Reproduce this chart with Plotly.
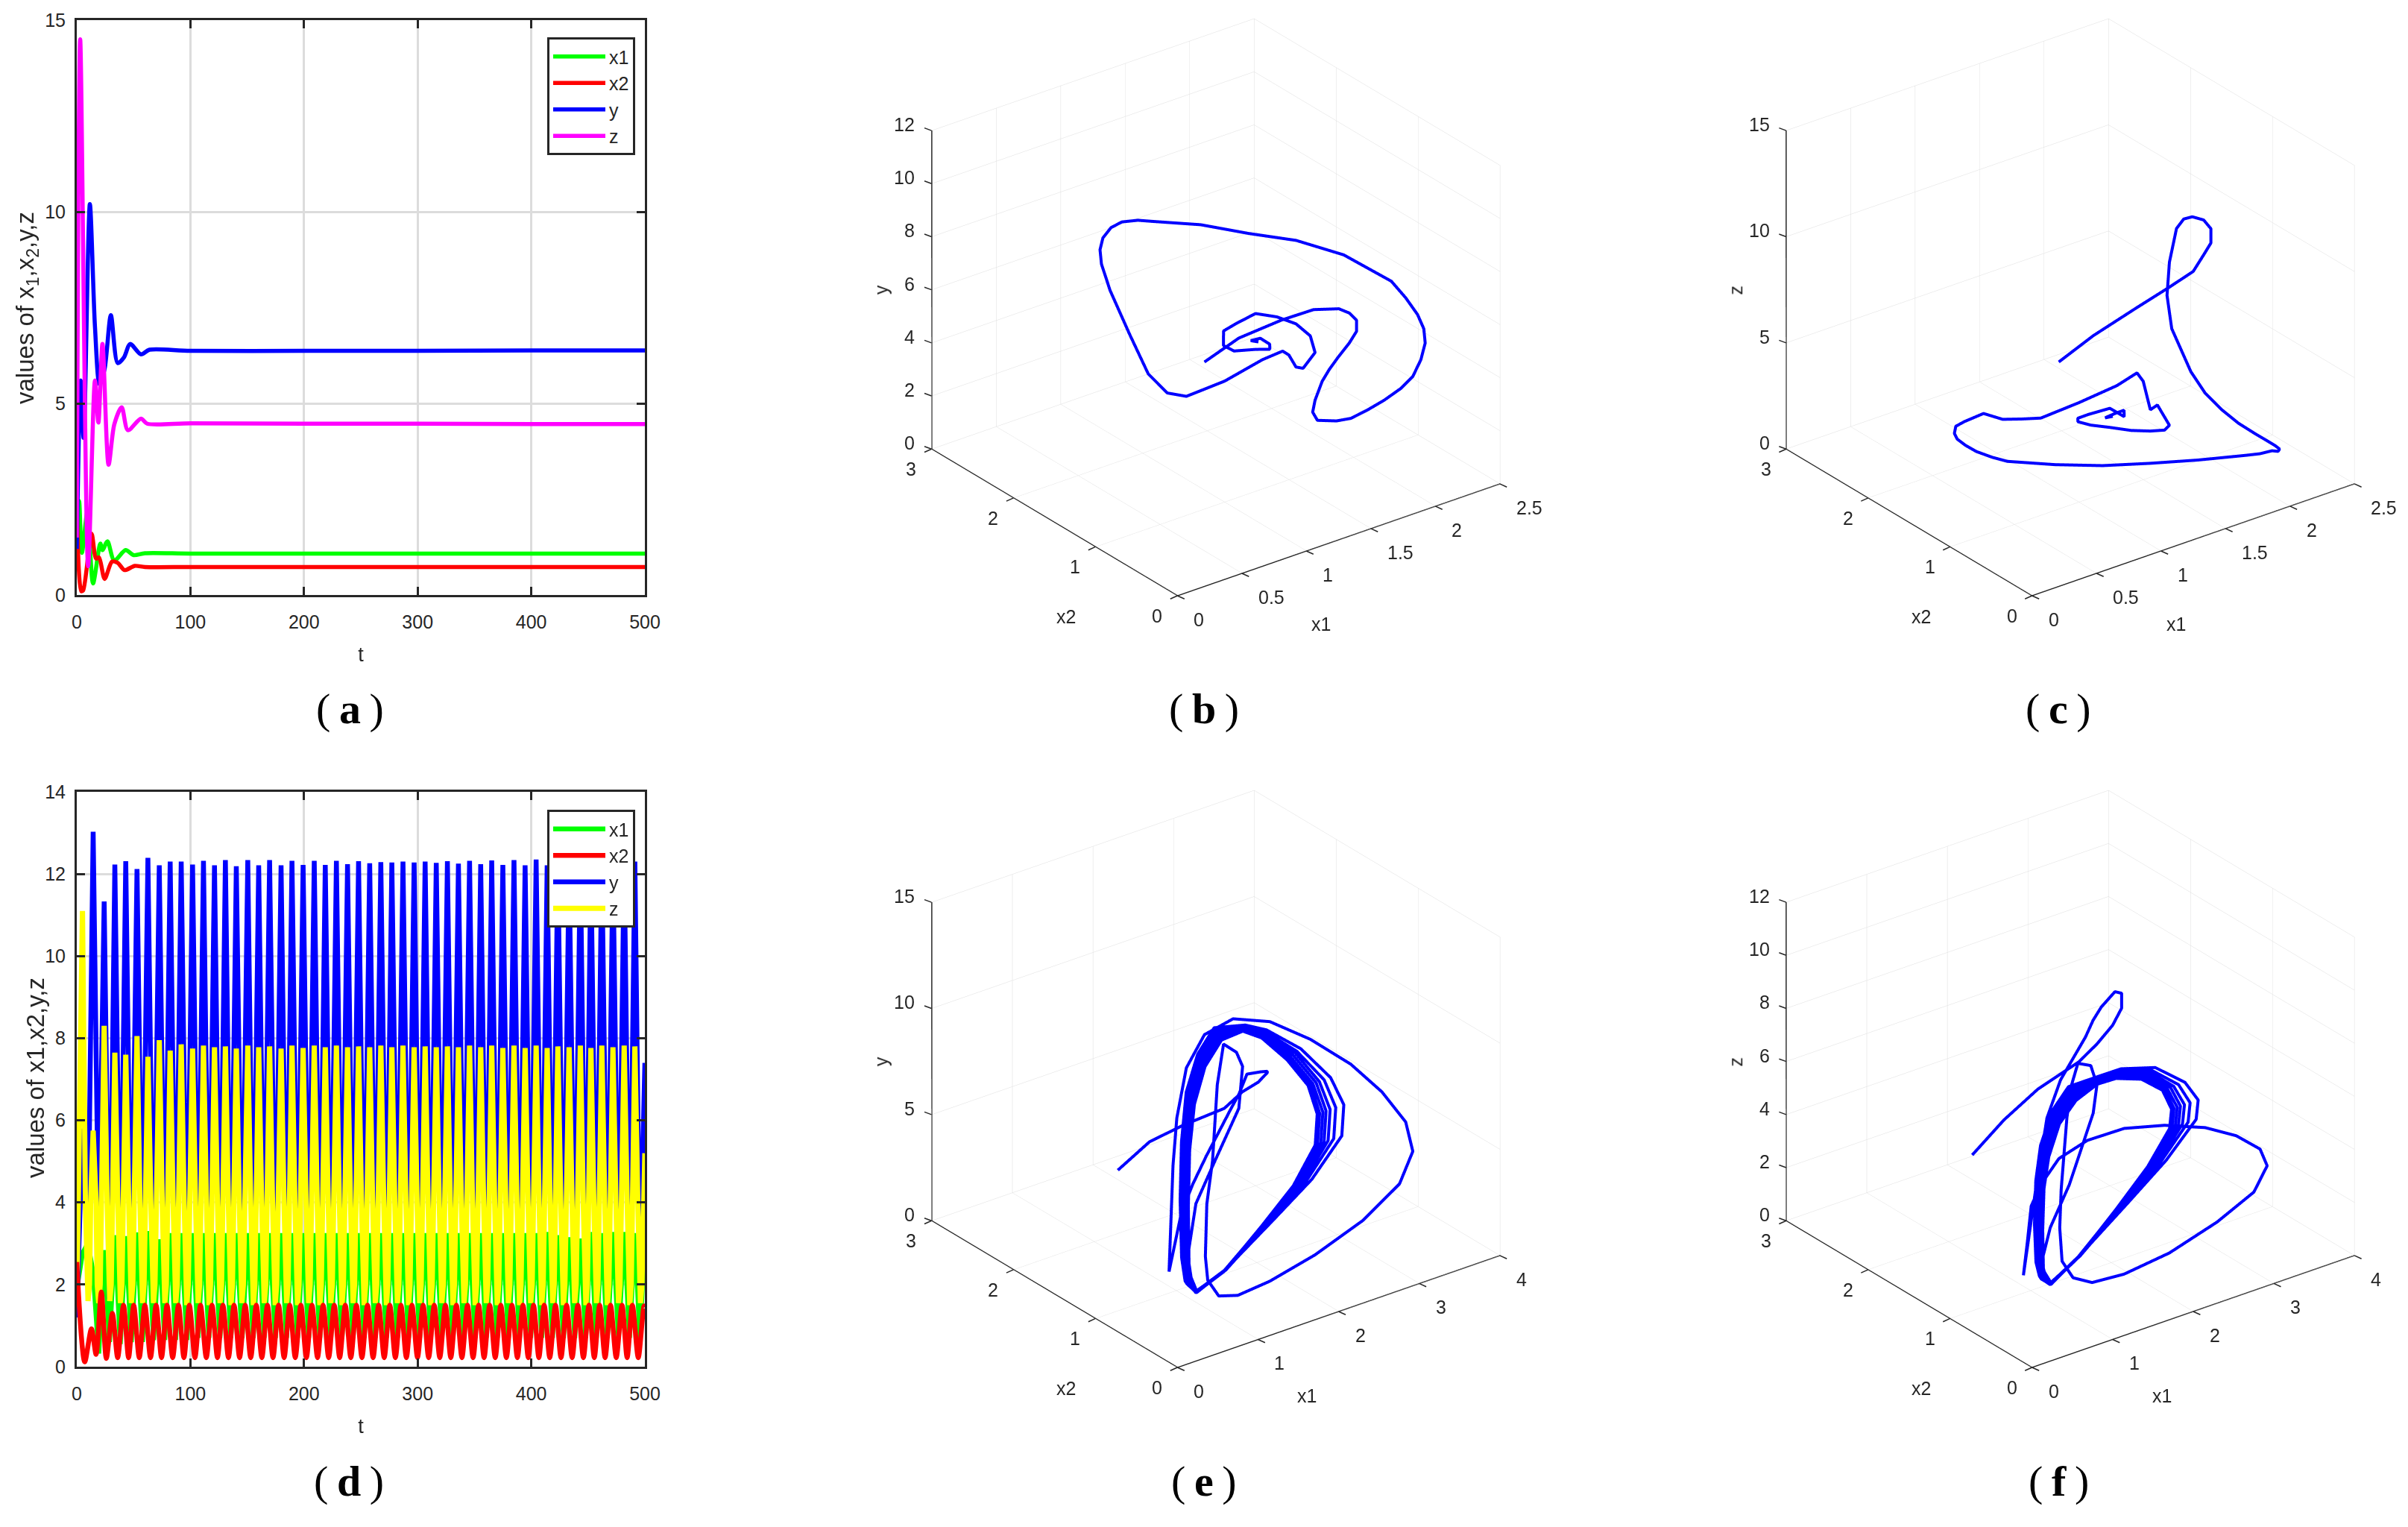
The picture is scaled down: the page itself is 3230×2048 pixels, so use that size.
import plotly.graph_objects as go

W, H = 3230, 2048
FONT = "Liberation Sans, Arial, sans-serif"
TXT = "#262626"
GREEN, RED, BLUE, MAG, YEL = "#00ff00", "#ff0000", "#0000ff", "#ff00ff", "#ffff00"

# ---------- panel (a) ----------
a_t_x1 = [0, 2, 4.5, 9.4, 14.3, 20.7, 22.6, 27, 33, 43, 50, 60, 100, 200, 300, 400, 500]
a_x1 = [1.9, 2.45, 1.1, 2.18, 0.3, 1.34, 1.17, 1.4, 0.9, 1.17, 1.04, 1.09, 1.08, 1.08, 1.08, 1.08, 1.08]
a_t_x2 = [0, 4, 5.6, 13, 17, 19.6, 24.5, 31, 36, 42, 51, 60, 100, 200, 300, 400, 500]
a_x2 = [2.57, 0.1, 0.12, 1.6, 0.95, 0.98, 0.42, 0.87, 0.84, 0.65, 0.76, 0.73, 0.73, 0.73, 0.73, 0.73, 0.73]
a_t_y = [0, 3.5, 6, 11.5, 16, 20, 24.5, 30, 36, 41.5, 47, 56.5, 64, 100, 200, 300, 400, 500]
a_y = [1.2, 5.6, 4.1, 10.2, 7.0, 5.5, 5.9, 7.3, 6.05, 6.2, 6.55, 6.28, 6.4, 6.37, 6.37, 6.37, 6.38, 6.38]
a_t_z = [0, 3, 10, 16, 19, 22.6, 28, 33, 39.5, 45, 56.5, 62, 100, 200, 300, 400, 500]
a_z = [1.5, 14.5, 0.75, 5.6, 4.5, 6.55, 3.4, 4.45, 4.9, 4.3, 4.6, 4.47, 4.48, 4.47, 4.47, 4.46, 4.46]

# ---------- panel (d) ----------
d_peak_t = [5, 14.4, 24.1, 33.5, 43.1, 53, 62.6, 72.6, 82.2, 91.9, 101.9, 111.5, 121.2, 130.8, 140.4, 150.5, 160.1,
            169.7, 179.8, 189.4, 199.2, 209, 218.7, 228.5, 238.3, 248, 257.8, 267.6, 277.3, 287.1, 296.9, 306.6,
            316.4, 326.2, 335.9, 345.7, 355.5, 365.2, 375, 384.8, 394.6, 404.3, 414, 423.4, 433.3, 443.2, 452.5,
            462.1, 471.9, 481.8, 491.2]
d_trough_t = [9.7, 19.3, 28.8, 38.3, 48, 57.8, 67.6, 77.4, 87, 96.9, 106.7, 116.3, 126, 135.6, 145.5, 155.3, 164.9,
              174.8, 184.6, 194.3, 204.1, 213.9, 223.6, 233.4, 243.2, 252.9, 262.7, 272.5, 282.2, 292, 301.8, 311.5,
              321.3, 331.1, 340.8, 350.6, 360.4, 370.1, 379.9, 389.7, 399.5, 409.2, 418.7, 428.4, 438.3, 447.9, 457.3,
              467, 476.8, 486.5, 495.6]
d_y_peak = [5.8, 13.03, 11.33, 12.23, 12.31, 12.12, 12.39, 12.21, 12.3, 12.3, 12.23, 12.32, 12.21, 12.34, 12.19, 12.34,
            12.21, 12.34, 12.21, 12.32, 12.22, 12.32, 12.22, 12.32, 12.24, 12.31, 12.26, 12.29, 12.28, 12.3, 12.28,
            12.3, 12.27, 12.31, 12.25, 12.32, 12.24, 12.33, 12.22, 12.34, 12.21, 12.35, 12.21, 12.34, 12.22, 12.33,
            12.23, 12.33, 12.22, 12.33, 12.3]
d_y_trough = [2.6, 3.0, 1.65, 2.2, 2.0, 2.4, 1.9, 2.3, 2.1, 2.1, 2.2, 2.1, 2.2, 2.1, 2.2, 2.1, 2.2, 2.1, 2.2, 2.1, 2.2,
              2.1, 2.2, 2.1, 2.2, 2.1, 2.2, 2.1, 2.2, 2.1, 2.2, 2.1, 2.2, 2.1, 2.2, 2.1, 2.2, 2.1, 2.2, 2.1, 2.2, 2.1,
              2.2, 2.1, 2.2, 2.1, 2.2, 2.1, 2.2, 2.1, 2.2]
d_z_peak = [11.1, 5.75, 8.3, 7.65, 7.6, 8.05, 7.55, 7.95, 7.7, 7.85, 7.75, 7.82, 7.78, 7.8, 7.75, 7.82, 7.78, 7.8, 7.75,
            7.82, 7.76, 7.82, 7.78, 7.82, 7.78, 7.8, 7.78, 7.82, 7.78, 7.82, 7.78, 7.8, 7.78, 7.8, 7.78, 7.82, 7.78, 7.82,
            7.76, 7.82, 7.76, 7.82, 7.76, 7.8, 7.78, 7.82, 7.76, 7.82, 7.78, 7.82, 7.8]
d_z_trough = [1.6, 1.55, 1.6, 1.55, 1.55, 1.55, 1.55, 1.55, 1.55, 1.5, 1.55, 1.5, 1.55, 1.5, 1.55, 1.5, 1.55, 1.5, 1.55,
              1.5, 1.55, 1.5, 1.55, 1.5, 1.55, 1.5, 1.55, 1.5, 1.55, 1.5, 1.55, 1.5, 1.55, 1.5, 1.55, 1.5, 1.55, 1.5, 1.55,
              1.5, 1.55, 1.5, 1.55, 1.5, 1.55, 1.5, 1.55, 1.5, 1.55, 1.5, 1.55]
# shape of the lower flanks of z: levels and their time from the peak
d_z_flank_levels = [4.0, 2.0, 2.0, 4.0]
d_z_flank_dt = [2.6, 3.6, 6.2, 7.2]
d_x1_peak = [2.76, 2.3, 2.84, 3.2, 3.18, 3.27, 3.3, 3.1, 3.25, 3.25, 3.25, 3.25, 3.25, 3.25, 3.25, 3.25, 3.25, 3.25, 3.25,
             3.25, 3.25, 3.25, 3.25, 3.25, 3.25, 3.25, 3.25, 3.25, 3.25, 3.25, 3.25, 3.25, 3.25, 3.25, 3.25, 3.25, 3.25,
             3.25, 3.25, 3.25, 3.25, 3.25, 3.28, 3.2, 3.15, 3.12, 3.28, 3.25, 3.28, 3.28, 3.25]
d_x1_trough = [3.0, 0.32, 0.6, 0.55, 0.6, 0.6, 0.65, 0.65, 0.65, 0.65, 0.7, 0.7, 0.7, 0.7, 0.7, 0.7, 0.7, 0.7, 0.7, 0.7,
               0.7, 0.7, 0.7, 0.7, 0.7, 0.7, 0.7, 0.7, 0.7, 0.7, 0.7, 0.7, 0.7, 0.7, 0.7, 0.7, 0.7, 0.7, 0.7, 0.7, 0.7,
               0.7, 0.7, 0.7, 0.7, 0.7, 0.7, 0.7, 0.7, 0.7, 0.7]
d_t_start, d_t_end = 0, 500
d_y_start, d_y_end = 1.2, 7.4
d_z_start, d_z_end = 1.5, 5.2
d_x1_start, d_x1_end = 1.9, 3.2
d_t_x2 = [0, 7, 12.9, 17, 21.6, 26, 31.3, 36, 41.1, 45.6, 50.1, 55, 59.9, 64.9, 69.8, 74.6, 79.4, 84.4, 89.5, 94.3, 99.1,
          104, 108.9, 114, 119, 123.8, 128.6, 133.5, 138.4, 143.3, 148.2, 153.1, 158, 162.9, 167.8, 172.7, 177.6, 182.5,
          187.4, 192.3, 197.2, 202.1, 207, 211.9, 216.8, 221.7, 226.6, 231.4, 236.3, 241.2, 246.1, 251, 255.9, 260.8,
          265.7, 270.6, 275.5, 280.4, 285.3, 290.1, 295, 299.9, 304.8, 309.7, 314.6, 319.5, 324.4, 329.2, 334.1, 339,
          343.9, 348.8, 353.7, 358.5, 363.4, 368.3, 373.2, 378.1, 383, 387.8, 392.7, 397.4, 402, 406.7, 411.4, 416.3,
          421.3, 426.2, 431.1, 436, 441, 445.9, 450.8, 455.5, 460.2, 465, 469.8, 474.8, 479.9, 484.4, 489, 494.2, 499.3, 500]
d_x2 = [2.55, 0.12, 0.92, 0.3, 1.82, 0.2, 1.3, 0.22, 1.5, 0.22, 1.5, 0.22, 1.5, 0.22, 1.5, 0.22, 1.5, 0.22, 1.5, 0.22, 1.5,
        0.22, 1.5, 0.22, 1.5, 0.22, 1.5, 0.22, 1.5, 0.22, 1.5, 0.22, 1.5, 0.22, 1.5, 0.22, 1.5, 0.22, 1.5, 0.22, 1.5, 0.22,
        1.5, 0.22, 1.5, 0.22, 1.5, 0.22, 1.5, 0.22, 1.5, 0.22, 1.5, 0.22, 1.5, 0.22, 1.5, 0.22, 1.5, 0.22, 1.5, 0.22, 1.5,
        0.22, 1.5, 0.22, 1.5, 0.22, 1.5, 0.22, 1.5, 0.22, 1.5, 0.22, 1.5, 0.22, 1.5, 0.22, 1.5, 0.22, 1.5, 0.22, 1.5, 0.22,
        1.5, 0.22, 1.5, 0.22, 1.5, 0.22, 1.5, 0.22, 1.5, 0.22, 1.5, 0.22, 1.5, 0.22, 1.5, 0.22, 1.5, 0.22, 1.48, 1.45]

# ---------- panels (b), (c) ----------
bc_x1 = [1.79, 1.746, 1.633, 1.626, 1.663, 1.649, 1.641, 1.578, 1.49, 1.37, 1.278, 1.203, 1.129, 1.104, 1.147, 1.308, 1.425,
         1.567, 1.709, 1.858, 1.995, 2.153, 2.269, 2.332, 2.35, 2.264, 2.175, 1.903, 1.642, 1.389, 1.164, 0.957, 0.916,
         0.877, 0.866, 0.868, 0.857, 0.853, 0.838, 0.841, 0.782, 0.843, 0.909, 1.135, 1.27, 1.212, 1.278, 1.358, 1.43,
         1.481, 1.418, 1.305, 1.164, 1.032, 0.922, 0.852, 0.828, 0.876, 1.032, 1.138, 1.138, 1.099, 1.052, 1.09]
bc_x2 = [2.49, 2.0, 1.3, 0.9, 0.65, 0.5, 0.4, 0.3, 0.25, 0.2, 0.16, 0.13, 0.1, 0.09, 0.1, 0.12, 0.13, 0.15, 0.17, 0.2, 0.27,
         0.42, 0.55, 0.666, 0.77, 0.78, 0.815, 0.968, 1.14, 1.324, 1.55, 1.807, 1.928, 2.06, 2.176, 2.278, 2.296, 2.272,
         2.143, 1.915, 1.589, 1.453, 1.324, 1.215, 0.963, 0.626, 0.654, 0.693, 0.72, 0.654, 0.613, 0.61, 0.621, 0.674,
         0.735, 0.781, 0.744, 0.691, 0.674, 0.666, 0.668, 0.721, 0.764, 0.73]
bc_y = [1.2, 3.08, 5.24, 6.38, 6.81, 6.95, 6.88, 6.75, 6.55, 6.3, 6.08, 5.81, 5.28, 4.89, 4.49, 4.16, 4.04, 4.08, 4.17, 4.31,
        4.4, 4.49, 4.68, 4.9, 5.21, 5.97, 6.68, 7.85, 8.52, 8.87, 9.16, 9.16, 9.05, 8.81, 8.4, 7.82, 7.36, 6.87, 6.14,
        4.94, 4.11, 3.54, 3.54, 3.93, 4.98, 6.02, 5.71, 5.05, 4.83, 5.46, 6.27, 6.92, 7.4, 7.65, 7.35, 7.1, 6.66, 6.47,
        6.3, 6.14, 6.33, 6.52, 6.43, 6.38]
bc_z = [1.5, 3.96, 7.11, 8.99, 10.27, 11.43, 12.23, 13.27, 13.98, 14.5, 14.68, 14.46, 13.1, 11.61, 9.93, 7.52, 6.24, 5.11, 4.13,
        3.25, 2.47, 1.56, 0.86, 0.35, 0.1, 0.12, 0.15, 0.15, 0.15, 0.15, 0.15, 0.15, 0.15, 0.2, 0.25, 0.3, 0.55, 0.95, 1.5,
        2.4, 3.0, 3.2, 3.4, 3.9, 5.0, 6.5, 5.9, 4.3, 4.31, 3.4, 3.4, 3.6, 3.9, 4.2, 4.4, 4.6, 4.9, 5.1, 5.1, 4.5, 4.8, 4.6,
        4.4, 4.47]

# ---------- panels (e), (f) ----------
ef_x1 = ([1.8, 2.02, 2.206, 2.393, 2.314, 2.2, 2.077, 1.889, 1.717, 1.723, 1.765, 1.761, 1.667, 1.686, 1.321, 0.62]
         + [1.264, 1.515, 1.684, 1.909, 2.213, 2.567, 2.968, 3.318, 3.5, 3.592, 3.477, 3.159, 2.55, 1.857, 1.244, 0.827,
            0.611, 0.627, 0.852, 1.226, 1.551, 1.61, 1.535, 1.746, 1.924, 1.979, 1.835, 1.446, 0.768]
         + [0.5, 0.81, 1.38, 2.02, 2.85, 3.18, 3.22, 2.85, 2.17, 1.57, 1.5, 1.58, 1.55, 1.44, 1.21, 0.72, 0.55]
         + [0.49, 0.8, 1.34, 1.95, 2.75, 3.08, 3.14, 2.8, 2.15, 1.56, 1.49, 1.57, 1.55, 1.44, 1.2, 0.71, 0.54]
         + [0.48, 0.79, 1.32, 1.91, 2.68, 3.01, 3.08, 2.78, 2.15, 1.56, 1.49, 1.57, 1.54, 1.43, 1.2, 0.7, 0.53]
         + [0.48, 0.79, 1.3, 1.88, 2.63, 2.96, 3.04, 2.75, 2.14, 1.55, 1.48, 1.56, 1.54, 1.43, 1.2, 0.7, 0.53]
         + [0.48, 0.78, 1.29, 1.85, 2.59, 2.92, 3.0, 2.72, 2.13, 1.55, 1.48, 1.56, 1.54, 1.43, 1.2, 0.7, 0.53]
         + [0.48, 0.78, 1.28, 1.82, 2.55, 2.88, 2.97, 2.7, 2.12, 1.55, 1.48, 1.56, 1.54, 1.43, 1.2, 0.7, 0.53]
         + [0.47, 0.77, 1.27, 1.79, 2.52, 2.85, 2.94, 2.68, 2.11, 1.54, 1.48, 1.56, 1.54, 1.43, 1.2, 0.7, 0.53])
ef_x2 = ([2.5, 2.33, 2.097, 1.784, 1.486, 1.18, 0.949, 0.764, 0.677, 0.849, 0.99, 1.08, 1.291, 1.476, 1.255, 0.715]
         + [1.3, 1.5, 1.55, 1.55, 1.5, 1.4, 1.3, 1.15, 0.95, 0.75, 0.55, 0.4, 0.25, 0.15, 0.1, 0.08,
            0.1, 0.25, 0.5, 0.85, 1.1, 1.1, 0.95, 1.0, 1.1, 1.2, 1.35, 1.2, 0.65]
         + [0.26, 0.21, 0.22, 0.35, 0.8, 1.1, 1.3, 1.3, 1.05, 0.72, 1.03, 1.31, 1.42, 1.37, 1.16, 0.66, 0.45]
         + [0.26, 0.2, 0.22, 0.35, 0.8, 1.1, 1.3, 1.3, 1.05, 0.72, 1.01, 1.29, 1.4, 1.35, 1.14, 0.64, 0.43]
         + [0.25, 0.2, 0.22, 0.35, 0.8, 1.1, 1.3, 1.3, 1.05, 0.72, 0.99, 1.27, 1.38, 1.33, 1.12, 0.62, 0.41]
         + [0.25, 0.2, 0.22, 0.35, 0.8, 1.1, 1.3, 1.3, 1.05, 0.72, 0.97, 1.25, 1.36, 1.31, 1.1, 0.6, 0.39]
         + [0.25, 0.2, 0.22, 0.35, 0.8, 1.1, 1.3, 1.3, 1.05, 0.72, 0.95, 1.23, 1.34, 1.29, 1.08, 0.58, 0.37]
         + [0.24, 0.2, 0.22, 0.35, 0.8, 1.1, 1.3, 1.3, 1.05, 0.72, 0.93, 1.21, 1.32, 1.27, 1.06, 0.56, 0.35]
         + [0.24, 0.19, 0.22, 0.35, 0.8, 1.1, 1.3, 1.3, 1.05, 0.72, 0.92, 1.2, 1.31, 1.26, 1.05, 0.55, 0.34])
ef_y = ([1.16, 2.6, 3.68, 4.94, 6.51, 7.82, 8.96, 9.7, 10.1, 9.59, 8.25, 7.39, 4.78, 2.99, 2.63, 2.05]
        + [4.85, 6.3, 8.32, 9.59, 10.05, 9.68, 8.55, 7.26, 6.18, 5.1, 4.33, 3.56, 2.98, 2.51, 2.19, 2.12,
           2.33, 2.71, 2.96, 4.13, 5.15, 8.66, 11.02, 10.24, 9.11, 6.83, 4.2, 3.04, 2.28]
        + [2.34, 3.07, 4.5, 5.39, 5.31, 5.65, 6.41, 8.26, 10.62, 12.4, 11.65, 9.65, 7.65, 5.55, 3.6, 2.7, 2.3]
        + [2.34, 3.07, 4.5, 5.39, 5.31, 5.65, 6.41, 8.21, 10.57, 12.38, 11.6, 9.6, 7.6, 5.53, 3.6, 2.7, 2.3]
        + [2.34, 3.07, 4.5, 5.39, 5.31, 5.65, 6.41, 8.16, 10.52, 12.34, 11.55, 9.55, 7.55, 5.52, 3.6, 2.7, 2.3]
        + [2.34, 3.07, 4.5, 5.39, 5.31, 5.65, 6.41, 8.11, 10.47, 12.3, 11.5, 9.5, 7.5, 5.5, 3.6, 2.7, 2.3]
        + [2.34, 3.07, 4.5, 5.39, 5.31, 5.65, 6.41, 8.06, 10.42, 12.25, 11.45, 9.45, 7.45, 5.48, 3.6, 2.7, 2.3]
        + [2.34, 3.07, 4.5, 5.39, 5.31, 5.65, 6.41, 8.01, 10.37, 12.2, 11.4, 9.4, 7.4, 5.47, 3.6, 2.7, 2.3]
        + [2.34, 3.07, 4.5, 5.39, 5.31, 5.65, 6.41, 7.96, 10.32, 12.15, 11.35, 9.35, 7.35, 5.45, 3.6, 2.7, 2.3])
ef_z = ([1.5, 2.9, 4.3, 5.7, 7.0, 8.4, 9.6, 10.7, 11.1, 10.2, 9.4, 8.6, 6.7, 4.9, 3.0, 1.5]
        + [1.0, 1.72, 2.25, 3.0, 3.46, 3.72, 3.6, 3.42, 3.29, 3.06, 2.92, 2.54, 2.33, 2.08, 2.02, 2.18,
           2.55, 2.88, 3.45, 3.84, 5.74, 6.93, 8.09, 7.69, 6.6, 5.28, 2.46, 1.53, 1.82]
        + [2.18, 2.99, 4.23, 5.03, 4.87, 4.7, 4.95, 5.9, 7.03, 8.0, 7.1, 5.58, 4.12, 3.0, 1.98, 1.99, 2.02]
        + [2.18, 2.99, 4.23, 5.03, 4.87, 4.7, 4.95, 5.86, 6.98, 7.96, 7.05, 5.54, 4.08, 2.98, 1.98, 1.99, 2.02]
        + [2.18, 2.99, 4.23, 5.03, 4.87, 4.7, 4.95, 5.81, 6.93, 7.91, 7.0, 5.49, 4.05, 2.97, 1.98, 1.99, 2.02]
        + [2.18, 2.99, 4.23, 5.03, 4.87, 4.7, 4.95, 5.77, 6.88, 7.87, 6.95, 5.45, 4.01, 2.96, 1.98, 1.99, 2.02]
        + [2.18, 2.99, 4.23, 5.03, 4.87, 4.7, 4.95, 5.73, 6.83, 7.82, 6.9, 5.41, 3.97, 2.94, 1.98, 1.99, 2.02]
        + [2.18, 2.99, 4.23, 5.03, 4.87, 4.7, 4.95, 5.68, 6.78, 7.77, 6.85, 5.36, 3.94, 2.93, 1.98, 1.99, 2.02]
        + [2.18, 2.99, 4.23, 5.03, 4.87, 4.7, 4.95, 5.64, 6.73, 7.72, 6.8, 5.32, 3.9, 2.92, 1.98, 1.99, 2.02])

# tick labels
ticks_x1_small = [0, 0.5, 1, 1.5, 2, 2.5]
ticks_x1_large = [0, 1, 2, 3, 4]
ticks_x2 = [0, 1, 2, 3]
ticks_12 = [0, 2, 4, 6, 8, 10, 12]
ticks_14 = [0, 2, 4, 6, 8, 10, 12, 14]
ticks_15 = [0, 5, 10, 15]
ticks_t = [0, 100, 200, 300, 400, 500]

fig = go.Figure()

def interleave(start, peaks, troughs, end):
    out = [start]
    for p, q in zip(peaks, troughs):
        out += [p, q]
    return out + [end]

d_t = interleave(d_t_start, d_peak_t, d_trough_t, d_t_end)
d_x1 = interleave(d_x1_start, d_x1_peak, d_x1_trough, d_x1_end)
d_y = interleave(d_y_start, d_y_peak, d_y_trough, d_y_end)

# z keeps its readings at the peaks and troughs and adds the flank levels of each cycle
d_z_t, d_z = [d_t_start], [d_z_start]
for pt, pv, tv in zip(d_peak_t, d_z_peak, d_z_trough):
    d_z_t += [pt, pt + d_z_flank_dt[0], pt + d_z_flank_dt[1], pt + 4.9, pt + d_z_flank_dt[2], pt + d_z_flank_dt[3]]
    d_z += [pv, d_z_flank_levels[0], d_z_flank_levels[1], tv, d_z_flank_levels[2], d_z_flank_levels[3]]
while d_z_t[-1] >= d_t_end:
    d_z_t.pop()
    d_z.pop()
d_z_t.append(d_t_end)
d_z.append(d_z_end)

def tr2d(x, y, name, color, xa, ya, legend, rank, width=5.5, shape="spline"):
    line = dict(color=color, width=width, shape=shape)
    if shape == "spline":
        line["smoothing"] = 0.8
    fig.add_trace(go.Scatter(x=x, y=y, name=name, mode="lines", line=line, xaxis=xa, yaxis=ya, legend=legend, legendrank=rank))

tr2d(a_t_x1, a_x1, "x1", GREEN, "x", "y", "legend", 1)
tr2d(a_t_x2, a_x2, "x2", RED, "x", "y", "legend", 2)
tr2d(a_t_y, a_y, "y", BLUE, "x", "y", "legend", 3)
tr2d(a_t_z, a_z, "z", MAG, "x", "y", "legend", 4)
tr2d(d_t, d_x1, "x1", GREEN, "x2", "y2", "legend2", 1, 6.5, "linear")
tr2d(d_t, d_y, "y", BLUE, "x2", "y2", "legend2", 3, 6.5, "linear")
tr2d(d_z_t, d_z, "z", YEL, "x2", "y2", "legend2", 4, 7, "linear")
tr2d(d_t_x2, d_x2, "x2", RED, "x2", "y2", "legend2", 2, 6.5)

LW3 = 8
for sc, xs, ys, zs in [("scene", bc_x1, bc_x2, bc_y), ("scene2", bc_x1, bc_x2, bc_z),
                       ("scene3", ef_x1, ef_x2, ef_y), ("scene4", ef_x1, ef_x2, ef_z)]:
    fig.add_trace(go.Scatter3d(x=xs, y=ys, z=zs, mode="lines", line=dict(color=BLUE, width=LW3), scene=sc, showlegend=False))

def ax2(rng, tickvals, dom, anchor, title, title_size, standoff, label_off):
    return dict(range=rng, tickmode="array", tickvals=tickvals, ticktext=[str(v) for v in tickvals], domain=dom, anchor=anchor,
                automargin=False, showgrid=True, gridcolor="#dcdcdc", gridwidth=3, zeroline=False, showline=True, linecolor=TXT, linewidth=3,
                mirror="ticks", ticks="inside", ticklen=11, tickwidth=3, tickcolor=TXT,
                tickfont=dict(family=FONT, size=25, color=TXT), ticklabelstandoff=label_off,
                title=dict(text=title, standoff=standoff, font=dict(family=FONT, size=title_size, color=TXT)))

PL, PR = 103 / W, 865 / W
lay = dict(
    width=W, height=H, margin=dict(l=0, r=0, t=0, b=0, pad=0), paper_bgcolor="white", plot_bgcolor="white", autosize=False,
    xaxis=ax2([0, 500], ticks_t, [PL, PR], "y", "t", 27, 22, 12),
    yaxis=ax2([0, 15], ticks_15, [1 - 798 / H, 1 - 27 / H], "x", "", 33, 10, 7),
    xaxis2=ax2([0, 500], ticks_t, [PL, PR], "y2", "t", 27, 22, 12),
    yaxis2=ax2([0, 14], ticks_14, [1 - 1833 / H, 1 - 1062 / H], "x2", "", 33, 2, 7),
)
leg = dict(xanchor="left", yanchor="top", bgcolor="white", bordercolor=TXT, borderwidth=3, itemwidth=70, tracegroupgap=0,
           font=dict(family=FONT, size=25, color=TXT))
lay["legend"] = dict(x=734 / W, y=1 - 50 / H, **leg)
lay["legend2"] = dict(x=734 / W, y=1 - 1086 / H, **leg)

CAM = dict(eye=dict(x=-0.54 * 1.52, y=-0.708 * 1.52, z=0.455 * 1.52), up=dict(x=0, y=0, z=1), center=dict(x=0, y=0, z=0),
           projection=dict(type="orthographic"))
ASPECT = 1.32

def ax3(rng, tickvals):
    return dict(range=rng, tickvals=tickvals, showticklabels=False, title=dict(text=""), showgrid=True, gridcolor="#dedede", gridwidth=1,
                showbackground=False, showline=True, linecolor=TXT, linewidth=3, zeroline=False, ticks="", showspikes=False)

def tickmark(x, y, z, ax, ay):
    return dict(x=x, y=y, z=z, text=" ", showarrow=True, arrowhead=0, arrowwidth=1.5, arrowcolor=TXT, ax=ax, ay=ay, standoff=0,
                font=dict(size=1))

def labels(x1_ticks, z_ticks, zname, x1_title_shift):
    TF = dict(family=FONT, size=25, color=TXT)
    xm, ym, zm = x1_ticks[-1], ticks_x2[-1], z_ticks[-1]
    out = []
    for v in x1_ticks:
        out.append(tickmark(v, 0, 0, 11, 5))
        out.append(dict(x=v, y=0, z=0, text=str(v), showarrow=False, xanchor="left", yanchor="middle", xshift=20, yshift=-32, font=TF))
    for v in ticks_x2:
        out.append(tickmark(0, v, 0, -11, 5))
        out.append(dict(x=0, y=v, z=0, text=str(v), showarrow=False, xanchor="center", yanchor="middle", xshift=-27, yshift=-27, font=TF))
    for v in z_ticks:
        out.append(tickmark(0, ym, v, -11, -4))
        out.append(dict(x=0, y=ym, z=v, text=str(v), showarrow=False, xanchor="right", yanchor="middle", xshift=-20, yshift=8, font=TF))
    out.append(dict(x=xm / 2, y=0, z=0, text="x1", showarrow=False, xshift=x1_title_shift, yshift=-113, font=TF))
    out.append(dict(x=0, y=ym / 2, z=0, text="x2", showarrow=False, xshift=16, yshift=-126, font=TF))
    out.append(dict(x=0, y=ym, z=zm / 2, text=zname, showarrow=False, textangle=-90, xshift=-68, font=TF))
    return out

def scene(cx, cy, x1_ticks, z_ticks, zname, x1_shift):
    S = 412
    return dict(domain=dict(x=[(cx - S) / W, (cx + S) / W], y=[1 - (cy + S) / H, 1 - (cy - S) / H]),
                xaxis=ax3([0, x1_ticks[-1]], x1_ticks), yaxis=ax3([0, 3], ticks_x2), zaxis=ax3([0, z_ticks[-1]], z_ticks),
                aspectmode="manual", aspectratio=dict(x=ASPECT, y=ASPECT, z=0.882 * ASPECT), camera=CAM, dragmode="orbit",
                annotations=labels(x1_ticks, z_ticks, zname, x1_shift))

lay["scene"] = scene(1630.6, 412, ticks_x1_small, ticks_12, "y", -24)
lay["scene2"] = scene(2777, 412, ticks_x1_small, ticks_15, "z", -23)
lay["scene3"] = scene(1630.6, 1447, ticks_x1_large, ticks_15, "y", -43)
lay["scene4"] = scene(2777, 1447, ticks_x1_large, ticks_12, "z", -42)

captions = ["a", "b", "c", "d", "e", "f"]
cap_x = [470, 1615, 2761, 468, 1615, 2761]
cap_y = [950, 950, 950, 1986, 1986, 1986]
notes = [dict(x=cx / W, y=1 - cy / H, xref="paper", yref="paper", xanchor="center", yanchor="middle", showarrow=False,
              text="(\u2009<b>%s</b>\u2009)" % c, font=dict(family="Liberation Serif", size=58, color="#000000"))
         for c, cx, cy in zip(captions, cap_x, cap_y)]
y_titles = ["values of x<sub>1</sub>,x<sub>2</sub>,y,z", "values of x1,x2,y,z"]
y_title_x = [36, 47]
y_title_y = [413, 1446]
notes += [dict(x=tx / W, y=1 - ty / H, xref="paper", yref="paper", xanchor="center", yanchor="middle", showarrow=False, textangle=-90,
               text=t, font=dict(family=FONT, size=33, color=TXT)) for t, tx, ty in zip(y_titles, y_title_x, y_title_y)]
lay["annotations"] = notes
fig.update_layout(**lay)
fig.write_html("out.html", config=dict(displayModeBar=False), post_script="document.body.style.margin='0';")
